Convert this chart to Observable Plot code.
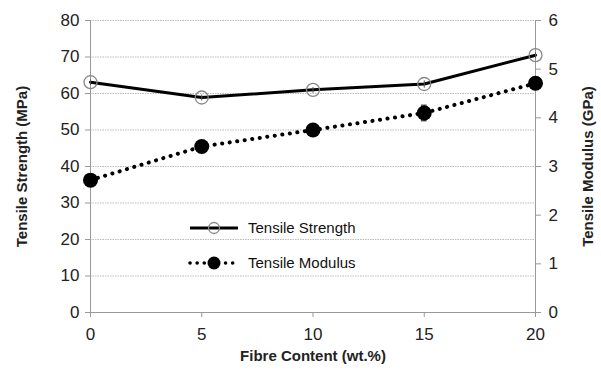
<!DOCTYPE html>
<html><head><meta charset="utf-8">
<script src="https://cdn.jsdelivr.net/npm/d3@7"></script>
<script src="https://cdn.jsdelivr.net/npm/@observablehq/plot@0.6"></script>
<style>
body{margin:0;background:#fff;font-family:"Liberation Sans",Arial,sans-serif;}
#wrap{position:relative;width:601px;height:384px;}
#legend{position:absolute;left:186px;top:210px;font-size:15px;color:#111;}
.row{display:flex;align-items:center;height:35px;}
.row span{margin-left:6px;}
</style>
</head><body>
<div id="wrap"><div id="chart"></div>
<div id="legend">
<div class="row"><svg width="56" height="20"><line x1="4" x2="52" y1="10" y2="10" stroke="#000" stroke-width="3"/><circle cx="28" cy="10" r="5.5" fill="none" stroke="#888" stroke-width="1.3"/></svg><span>Tensile Strength</span></div>
<div class="row"><svg width="56" height="20"><line x1="4" x2="52" y1="10" y2="10" stroke="#000" stroke-width="3.5" stroke-dasharray="0.1,7" stroke-linecap="round"/><circle cx="28" cy="10" r="6.5" fill="#000"/></svg><span>Tensile Modulus</span></div>
</div>
</div>
<script>
const fibre = [0, 5, 10, 15, 20];
const strength = [63.1, 58.9, 61.0, 62.6, 70.5];
const strengthErr = [0.8, 0.8, 0.8, 1.0, 0.8];
const modulus = [2.72, 3.41, 3.75, 4.10, 4.71];
const modulusErr = [0.05, 0.12, 0.06, 0.16, 0.05];
const leftTicks = [0, 10, 20, 30, 40, 50, 60, 70, 80];
const rightTicks = [0, 1, 2, 3, 4, 5, 6];
const k = 80 / 6;

const S = fibre.map((x, i) => ({x, y: strength[i], e: strengthErr[i]}));
const M = fibre.map((x, i) => ({x, y: modulus[i] * k, e: modulusErr[i] * k}));
const cap = 0.13;

const font = '"Liberation Sans", Arial, sans-serif';
const chart = Plot.plot({
  width: 601, height: 384,
  marginLeft: 90, marginRight: 66, marginTop: 20, marginBottom: 72,
  style: {fontFamily: font, fontSize: "15px", color: "#222", background: "#fff"},
  x: {type: "linear", domain: [0, 20], ticks: fibre},
  y: {type: "linear", domain: [0, 80]},
  marks: [
    Plot.ruleY(leftTicks.slice(1), {stroke: "#bbb", strokeDasharray: "1.5,1", strokeWidth: 1}),
    Plot.ruleX([0], {stroke: "#999"}),
    Plot.ruleX([20], {stroke: "#999"}),
    Plot.ruleY([0], {stroke: "#999"}),
    Plot.axisX({ticks: fibre, tickSize: 5, tickPadding: 10, stroke: "#999", fontSize: 17, label: null, color: "#222"}),
    Plot.text(["Fibre Content (wt.%)"], {frameAnchor: "bottom", dy: 48, fontWeight: "bold", fontSize: 15}),
    Plot.axisY({ticks: leftTicks, tickSize: 5, tickPadding: 6, stroke: "#999", anchor: "left", label: null, fontSize: 17}),
    Plot.text(["Tensile Strength (MPa)"], {frameAnchor: "left", textAnchor: "middle", dx: -68, rotate: -90, fontWeight: "bold", fontSize: 15}),
    Plot.axisY({ticks: rightTicks.map(d => d * k), tickFormat: d => Math.round(d / k), tickSize: 5, tickPadding: 8, stroke: "#999", anchor: "right", label: null, fontSize: 17}),
    Plot.text(["Tensile Modulus (GPa)"], {frameAnchor: "right", textAnchor: "middle", dx: 53, rotate: -90, fontWeight: "bold", fontSize: 15}),
    Plot.line(S, {x: "x", y: "y", stroke: "#000", strokeWidth: 3}),
    Plot.link(S, {x1: "x", x2: "x", y1: d => d.y - d.e, y2: d => d.y + d.e, stroke: "#555"}),
    Plot.dot(S, {x: "x", y: "y", r: 6.5, stroke: "#888", strokeWidth: 1.3, fill: "none"}),
    Plot.line(M, {x: "x", y: "y", stroke: "#000", strokeWidth: 4, strokeDasharray: "0.1,7.5", strokeLinecap: "round"}),
    Plot.link(M, {x1: "x", x2: "x", y1: d => d.y - d.e, y2: d => d.y + d.e, stroke: "#333", strokeWidth: 1.2}),
    Plot.ruleY(M, {x1: d => d.x - cap, x2: d => d.x + cap, y: d => d.y - d.e, stroke: "#333", strokeWidth: 1.2}),
    Plot.ruleY(M, {x1: d => d.x - cap, x2: d => d.x + cap, y: d => d.y + d.e, stroke: "#333", strokeWidth: 1.2}),
    Plot.dot(M, {x: "x", y: "y", r: 7.5, fill: "#000"})
  ]
});
document.getElementById("chart").appendChild(chart);
</script>
</body></html>
